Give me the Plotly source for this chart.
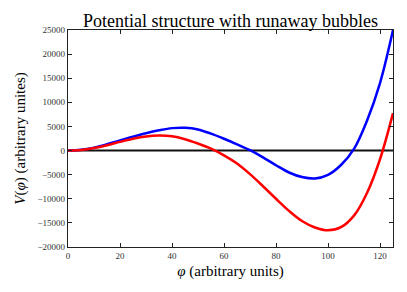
import plotly.graph_objects as go

phi = [0, 5, 10, 15, 20, 25, 30, 35, 40, 45, 50, 55, 60, 65, 70, 75, 80, 85, 90, 95, 100, 105, 110, 115, 120, 125]
v_blue = [0, 150, 600, 1300, 2100, 2880, 3600, 4200, 4650, 4730, 4380, 3500, 2450, 1300, 80,
          -1400, -3050, -4550, -5500, -5800, -5050, -3000, 350, 6200, 14000, 25000]
v_red = [0, 130, 520, 1100, 1800, 2450, 2920, 3100, 2950, 2350, 1450, 400, -1000, -2700, -4900,
         -7400, -10000, -12500, -14600, -15950, -16550, -15900, -13500, -8800, -1800, 7750]

x_ticks = [0, 20, 40, 60, 80, 100, 120]
y_ticks = [-20000, -15000, -10000, -5000, 0, 5000, 10000, 15000, 20000, 25000]

serif = "Liberation Serif, DejaVu Serif, serif"

fig = go.Figure()
fig.add_trace(go.Scatter(x=[0, 125], y=[0, 0], mode="lines",
                         line=dict(color="#111111", width=2), showlegend=False, hoverinfo="skip"))
fig.add_trace(go.Scatter(x=phi, y=v_blue, mode="lines",
                         line=dict(color="#0000ff", width=2.5, shape="spline", smoothing=1.0),
                         showlegend=False))
fig.add_trace(go.Scatter(x=phi, y=v_red, mode="lines",
                         line=dict(color="#ff0000", width=2.5, shape="spline", smoothing=1.0),
                         showlegend=False))

axis_common = dict(showgrid=False, zeroline=False, showline=True, linecolor="#222222", linewidth=1.3,
                   mirror="ticks", ticks="inside", ticklen=4, tickwidth=0.8, tickcolor="#222222",
                   tickfont=dict(family=serif, size=9, color="#333333"))

fig.update_xaxes(range=[0, 125], tickvals=x_ticks, ticktext=[str(t) for t in x_ticks],
                 title=dict(text="<i>φ</i> (arbitrary units)",
                            font=dict(family=serif, size=15, color="black"), standoff=5),
                 **axis_common)
fig.update_yaxes(range=[-20000, 25000], tickvals=y_ticks,
                 ticktext=[("\u2212" + str(-t)) if t < 0 else str(t) for t in y_ticks],
                 title=dict(text="<i>V</i>(<i>φ</i>) (arbitrary unites)",
                            font=dict(family=serif, size=15, color="black"), standoff=8),
                 **axis_common)

fig.update_layout(
    width=407, height=292,
    margin=dict(l=68, r=14, t=30, b=45),
    paper_bgcolor="white", plot_bgcolor="white",
    title=dict(text="Potential structure with runaway bubbles", x=0.5, xanchor="center", xref="paper",
               y=1 - 21 / 292, yanchor="middle", font=dict(family=serif, size=18, color="black")),
)

fig.write_html("out.html", config={"displayModeBar": False},
               post_script="document.body.style.margin='0';")
